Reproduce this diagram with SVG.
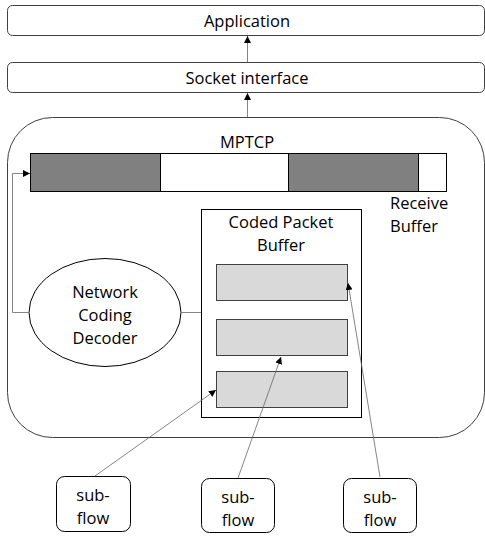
<svg xmlns="http://www.w3.org/2000/svg" width="485" height="536" viewBox="0 0 485 536">
<defs>
<marker id="ah" viewBox="0 0 10 10" refX="10" refY="5" markerWidth="7" markerHeight="7" markerUnits="userSpaceOnUse" orient="auto">
<path d="M0,0 L10,5 L0,10 z" fill="#000"/>
</marker>
</defs>
<style>
.box{fill:#fff;stroke:#404040;stroke-width:1}
.t{font-family:"Open Sans","Liberation Sans",sans-serif;font-size:16.5px;fill:#000;text-anchor:middle}
.tl{font-family:"Open Sans","Liberation Sans",sans-serif;font-size:16.5px;fill:#000}
.dark{fill:#808080;stroke:#000;stroke-width:1}
.white{fill:#fff;stroke:#000;stroke-width:1}
.gray{fill:#d9d9d9;stroke:#404040;stroke-width:1}
.c{fill:none;stroke:#666;stroke-width:0.8}
.ca{fill:none;stroke:#666;stroke-width:0.8;marker-end:url(#ah)}
</style>
<g id="application">
<rect class="box" x="7.5" y="5.5" width="477" height="30" rx="5"/>
<text class="t" x="247" y="27">Application</text>
</g>
<g id="socket">
<rect class="box" x="7.5" y="62.5" width="477" height="30" rx="5"/>
<text class="t" x="247" y="84">Socket interface</text>
</g>
<g id="mptcp">
<rect class="box" x="7.5" y="117.5" width="477" height="320" rx="45"/>
<text class="t" x="247" y="148">MPTCP</text>
</g>
<g id="receive-buffer">
<rect class="dark" x="30.5" y="153.5" width="130" height="38"/>
<rect class="white" x="160.5" y="153.5" width="128" height="38"/>
<rect class="dark" x="288.5" y="153.5" width="130" height="38"/>
<rect class="white" x="418.5" y="153.5" width="28" height="38"/>
<text class="tl" x="390" y="209">Receive</text>
<text class="tl" x="390" y="232">Buffer</text>
</g>
<g id="coded-packet-buffer">
<rect class="box" x="201.5" y="209.5" width="160" height="208" style="stroke:#000"/>
<text class="t" x="281" y="228">Coded Packet</text>
<text class="t" x="281" y="251">Buffer</text>
<rect class="gray" x="216.5" y="264.5" width="131" height="36"/>
<rect class="gray" x="216.5" y="319.5" width="131" height="36"/>
<rect class="gray" x="216.5" y="371.5" width="131" height="36"/>
</g>
<g id="decoder">
<ellipse class="box" cx="105" cy="312.5" rx="76" ry="54" style="stroke:#000"/>
<text class="t" x="105" y="298">Network</text>
<text class="t" x="105" y="321">Coding</text>
<text class="t" x="105" y="344">Decoder</text>
</g>
<g id="subflow1">
<rect class="box" x="56.5" y="476.5" width="74" height="55" rx="8" style="stroke:#000"/>
<text class="t" x="93" y="501">sub-</text>
<text class="t" x="93" y="524">flow</text>
</g>
<g id="subflow2">
<rect class="box" x="201.5" y="478.5" width="73" height="54" rx="8" style="stroke:#000"/>
<text class="t" x="238" y="503">sub-</text>
<text class="t" x="238" y="526">flow</text>
</g>
<g id="subflow3">
<rect class="box" x="343.5" y="478.5" width="73" height="54" rx="8" style="stroke:#000"/>
<text class="t" x="380" y="503">sub-</text>
<text class="t" x="380" y="526">flow</text>
</g>
<g id="connectors">
<line class="ca" x1="247.5" y1="62" x2="247.5" y2="36"/>
<line class="ca" x1="247.5" y1="117" x2="247.5" y2="93"/>
<polyline class="ca" points="29,312.5 12.5,312.5 12.5,173.5 30,173.5"/>
<line class="c" x1="181" y1="312.5" x2="201" y2="312.5"/>
<line class="ca" x1="95" y1="476" x2="216" y2="390"/>
<line class="ca" x1="238" y1="478" x2="281" y2="357"/>
<line class="ca" x1="380" y1="477" x2="348" y2="283"/>
</g>
</svg>
